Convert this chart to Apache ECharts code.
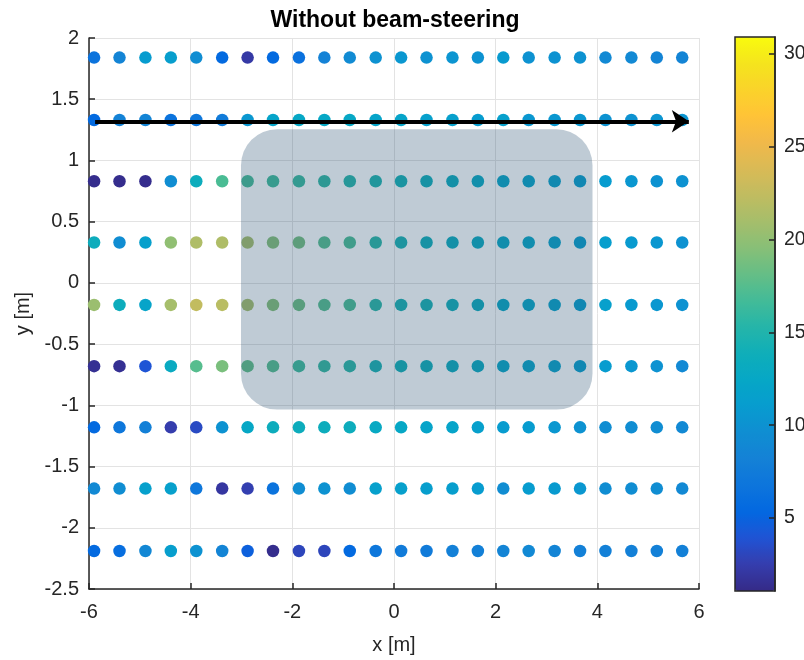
<!DOCTYPE html>
<html>
<head>
<meta charset="utf-8">
<script src="https://cdn.jsdelivr.net/npm/echarts@6/dist/echarts.min.js"></script>
<style>
html,body{margin:0;padding:0;background:#fff;}
#chart{width:804px;height:660px;}
</style>
</head>
<body>
<div id="chart"></div>
<script>
// x positions of the measurement columns [m]
var xPos = [-5.90, -5.40, -4.89, -4.39, -3.89, -3.38, -2.88, -2.38, -1.87, -1.37, -0.87, -0.36,
            0.14, 0.64, 1.15, 1.65, 2.15, 2.65, 3.16, 3.66, 4.16, 4.67, 5.17, 5.67];
// y positions of the rows [m], top to bottom
var yPos = [1.84, 1.33, 0.83, 0.33, -0.18, -0.68, -1.18, -1.68, -2.19];

// values per row (colour), top to bottom
var row1 = [6.5, 8.5, 11, 11.3, 9.5, 5.5, 2.2, 5.5, 6.3, 8.3, 9.3, 10, 10.5, 10, 10.3, 10, 10.8, 10, 10, 10, 9, 9, 8.5, 8.5];
var row2 = [5.5, 8.3, 8.5, 6.5, 7, 7.5, 10.5, 12, 12.5, 12.5, 12.5, 12, 12, 11.5, 11.5, 11, 11.5, 10.5, 10.5, 10.5, 10, 10, 10.3, 10.3];
var row3 = [1.3, 1.3, 1.3, 9.5, 13.5, 17, 16.8, 16.5, 16.2, 15.8, 15.3, 14.8, 14.2, 13.8, 13.3, 12.8, 12.2, 12, 11.7, 11.3, 11, 10.5, 10, 10];
var row4 = [13.5, 9.5, 11.5, 20, 21.5, 21.5, 21, 19.5, 18.8, 17.5, 17, 15.5, 14.5, 13.8, 13.3, 13, 12.5, 12.3, 11.8, 11.3, 11.3, 10.8, 10.5, 10];
var row5 = [20.5, 13.5, 12, 21, 22.5, 22, 21, 19.5, 18.5, 17.5, 17, 15.5, 14.5, 14.3, 13.8, 13.3, 12.5, 12.3, 11.8, 11.3, 11.5, 10.8, 10.5, 10];
var row6 = [1.5, 1.5, 4, 13, 17.5, 19, 18, 17.5, 16.5, 16, 15.5, 14.5, 14, 13.8, 13.3, 13, 12.3, 12, 11.8, 11.3, 11, 10.5, 10, 9];
var row7 = [5.5, 7, 8, 2.5, 3.3, 10, 12.5, 13.5, 13.5, 13.5, 13.5, 12.8, 12.5, 12, 12, 11.5, 11, 11, 10.5, 10, 9.5, 9.5, 9.5, 9];
var row8 = [9, 9.5, 11.5, 11.5, 7, 2, 2.6, 6.5, 9.5, 10, 9.5, 11.5, 11.5, 11.3, 11.3, 11, 9.5, 11, 10.8, 10.5, 9.5, 9.5, 9.5, 9];
var row9 = [5.5, 6, 8.8, 11.3, 10, 8.5, 4.8, 1.3, 3, 3, 5.5, 7, 7.5, 7.5, 8, 8, 8.5, 9, 8.5, 8, 8, 8, 8, 8];
var rows = [row1, row2, row3, row4, row5, row6, row7, row8, row9];

// colour scale limits
var cMin = 1.07, cMax = 30.9;
var cbTicks = [5, 10, 15, 20, 25, 30];

// obstacle region [x0, yTop, x1, yBottom] and arrow [x0, y, x1]
var region = [-3.01, 1.255, 3.905, -1.035];
var arrow = [-5.88, 1.32, 5.80];

var parula = ['#352a87', '#353dad', '#2053d4', '#0268e1', '#0d75dc', '#1481d6', '#108ed2',
  '#079ccf', '#06a7c6', '#0faeb9', '#25b5a9', '#42bb98', '#65be86', '#87bf77', '#a5be6b',
  '#c0bc60', '#d9ba56', '#f1b94a', '#ffc337', '#fad32a', '#f5e41d', '#f9fb0e'];

var pts = [];
for (var r = 0; r < rows.length; r++) {
  for (var c = 0; c < xPos.length; c++) {
    pts.push([xPos[c], yPos[r], rows[r][c]]);
  }
}

var txt = '#262626';
var font = 'Liberation Sans, Arial, Helvetica, sans-serif';

var chart = echarts.init(document.getElementById('chart'), null, {renderer: 'canvas'});
chart.setOption({
  backgroundColor: '#fff',
  animation: false,
  textStyle: {fontFamily: font},
  title: {
    text: 'Without beam-steering',
    left: 390, top: 4, textAlign: 'center',
    textStyle: {fontSize: 23, fontWeight: 'bold', color: '#000', fontFamily: font}
  },
  grid: [
    {left: 89, top: 38, right: 105, bottom: 71, containLabel: false, outerBoundsMode: 'none'},
    {left: 735, top: 37, width: 40, height: 554, show: true, borderColor: txt, borderWidth: 1.5,
     backgroundColor: 'transparent', z: 10, containLabel: false, outerBoundsMode: 'none'}
  ],
  xAxis: [
    {type: 'value', gridIndex: 0, min: -6, max: 6, interval: 2,
     name: 'x [m]', nameLocation: 'middle', nameGap: 46,
     nameTextStyle: {fontSize: 20, color: txt, fontFamily: font},
     axisLine: {show: true, onZero: false, lineStyle: {color: txt, width: 1.5}},
     axisTick: {show: true, inside: true, length: 6, lineStyle: {color: txt, width: 1.5}},
     axisLabel: {fontSize: 20, color: txt, margin: 13, fontFamily: font},
     splitLine: {show: true, lineStyle: {color: '#e3e3e3', width: 1}}},
    {type: 'value', gridIndex: 1, min: 0, max: 1, show: false}
  ],
  yAxis: [
    {type: 'value', gridIndex: 0, min: -2.5, max: 2, interval: 0.5,
     name: 'y [m]', nameLocation: 'middle', nameGap: 49,
     nameTextStyle: {fontSize: 20, color: txt, fontFamily: font},
     axisLine: {show: true, onZero: false, lineStyle: {color: txt, width: 1.5}},
     axisTick: {show: true, inside: true, length: 6, lineStyle: {color: txt, width: 1.5}},
     axisLabel: {fontSize: 20, color: txt, margin: 10, fontFamily: font},
     splitLine: {show: true, lineStyle: {color: '#e3e3e3', width: 1}}},
    {type: 'value', gridIndex: 1, min: cMin, max: cMax, position: 'right', z: 12,
     axisLine: {show: true, onZero: false, lineStyle: {color: txt, width: 1.5}},
     axisTick: {show: true, inside: true, length: 6, lineStyle: {color: txt, width: 1.5},
                customValues: cbTicks},
     axisLabel: {fontSize: 19.5, color: txt, margin: 9, fontFamily: font, customValues: cbTicks},
     splitLine: {show: false}}
  ],
  visualMap: {
    type: 'continuous', seriesIndex: 0, dimension: 2,
    min: cMin, max: cMax, calculable: false, hoverLink: false,
    orient: 'vertical', left: 735, top: 37, itemWidth: 40, itemHeight: 554,
    padding: 0, inRange: {color: parula}, z: 4
  },
  series: [
    {type: 'scatter', xAxisIndex: 0, yAxisIndex: 0, data: pts, symbolSize: 12.5, z: 2,
     itemStyle: {opacity: 1}},
    {type: 'custom', xAxisIndex: 0, yAxisIndex: 0, z: 3, silent: true,
     data: [region],
     encode: {x: [0, 2], y: [1, 3]},
     renderItem: function (params, api) {
       var p1 = api.coord([api.value(0), api.value(1)]);
       var p2 = api.coord([api.value(2), api.value(3)]);
       return {type: 'rect',
               shape: {x: p1[0], y: p1[1], width: p2[0] - p1[0], height: p2[1] - p1[1], r: 36},
               style: {fill: 'rgba(42,82,115,0.3)'}};
     }},
    {type: 'line', xAxisIndex: 0, yAxisIndex: 0, data: [], z: 4, silent: true,
     markLine: {silent: true, symbol: ['none', 'arrow'], symbolSize: [17, 17],
       label: {show: false},
       lineStyle: {color: '#000', width: 4, type: 'solid'},
       data: [[{coord: [arrow[0], arrow[1]]}, {coord: [arrow[2], arrow[1]]}]]}}
  ]
});
</script>
</body>
</html>
